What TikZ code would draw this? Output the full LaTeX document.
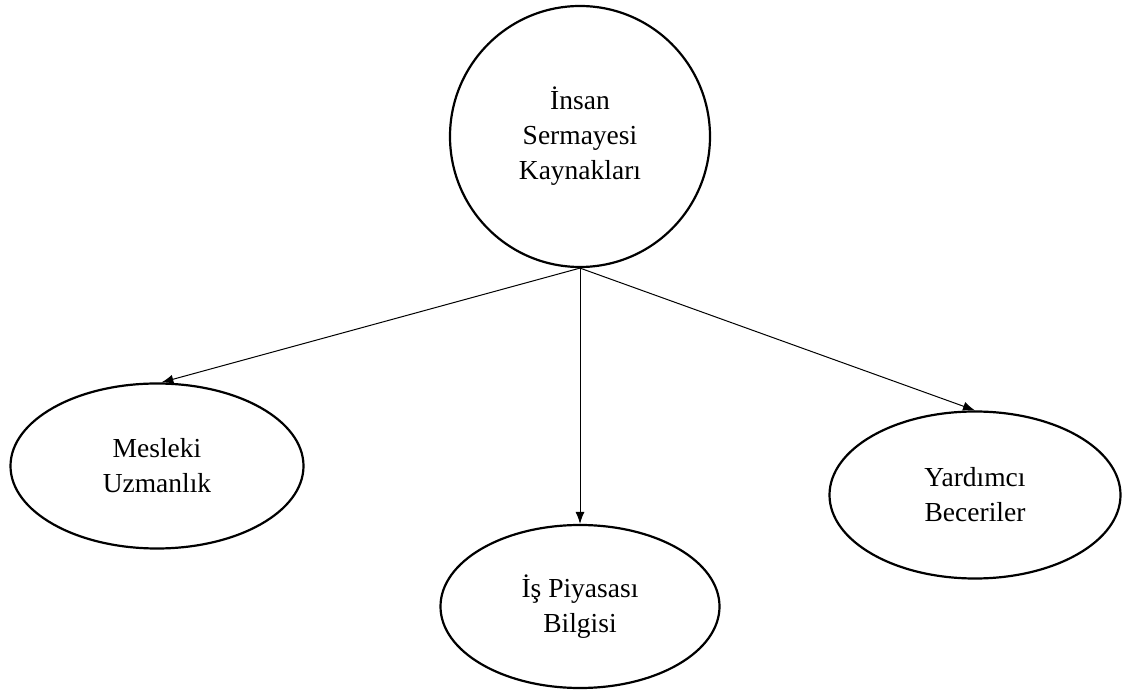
\documentclass[tikz,border=0pt]{standalone}
\usepackage{fontspec}
\setmainfont{Liberation Serif}
\usetikzlibrary{shapes.geometric,arrows.meta}
\begin{document}
\begin{tikzpicture}[x=1pt,y=-1pt,
  bubble/.style={draw=black, line width=2.2pt, ellipse, inner sep=0pt, align=center,
    font=\fontsize{27.5}{35}\selectfont, text=black},
  link/.style={line width=1pt, -{Latex[length=12pt,width=9pt]}}]
\useasboundingbox (0,0) rectangle (1133,692);
\node[bubble, minimum width=260pt, minimum height=261pt] (top) at (580,136.5) {İnsan\\Sermayesi\\Kaynakları};
\node[bubble, minimum width=293pt, minimum height=165pt] (mesleki) at (157,466) {Mesleki\\Uzmanlık};
\node[bubble, minimum width=279pt, minimum height=163pt] (is) at (580,606.5) {İş Piyasası\\Bilgisi};
\node[bubble, minimum width=291pt, minimum height=167pt] (yardimci) at (975,495) {Yardımcı\\Beceriler};
\draw[link] (top.south) -- (mesleki.87);
\draw[link] (top.south) -- (is.north);
\draw[link] (top.south) -- (yardimci.north);
\end{tikzpicture}
\end{document}
